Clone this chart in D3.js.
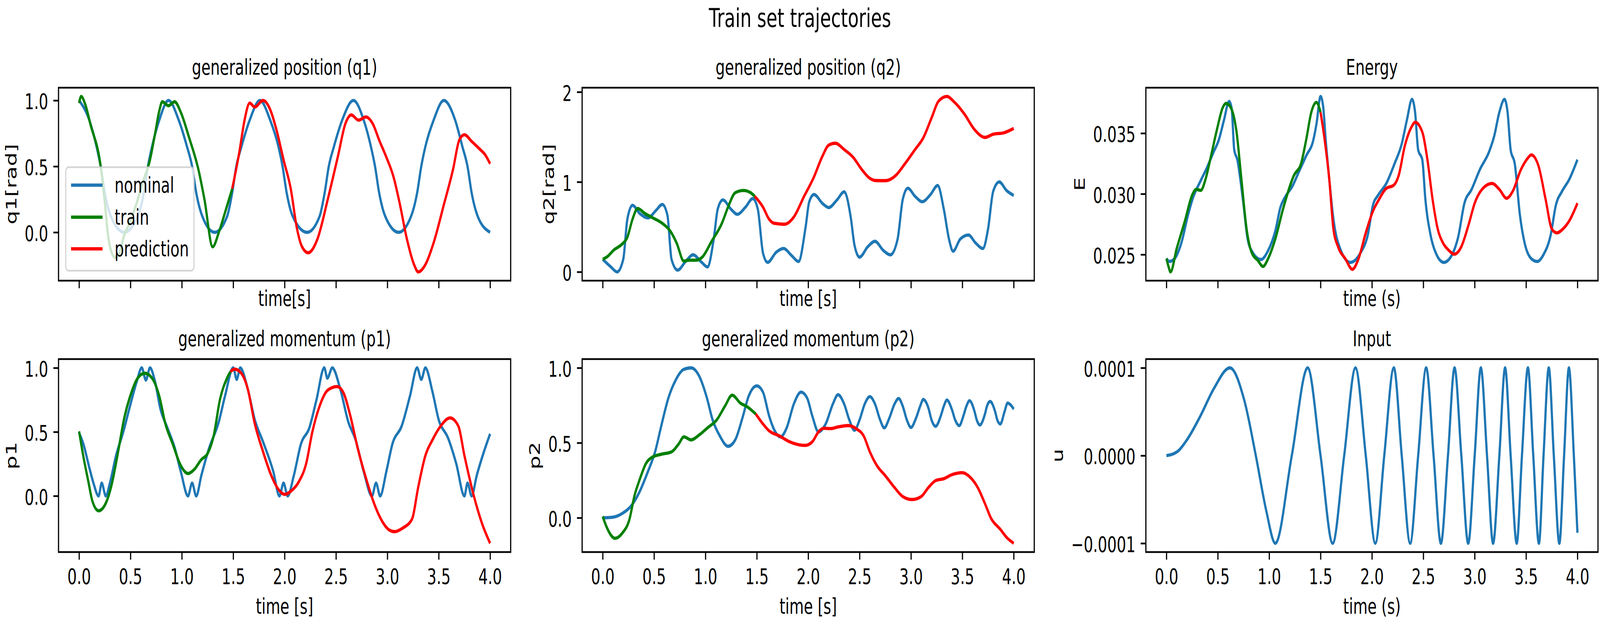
<!DOCTYPE html>
<html>
<head>
<meta charset="utf-8">
<script src="https://cdn.jsdelivr.net/npm/d3@7"></script>
<style>
    html, body { margin: 0; padding: 0; width: 100%; height: 100%; overflow: hidden; background: #ffffff; }
    #chart { display: block; width: 100vw; height: 100vh; }
    svg text { font-family: "DejaVu Sans", sans-serif; fill: #000000; }
</style>
</head>
<body>
<svg id="chart" viewBox="0 0 6000 1600" preserveAspectRatio="none"></svg>
<script>
// ---- data: [time (s), value] ----

const timeTicks = [0, 0.5, 1, 1.5, 2, 2.5, 3, 3.5, 4];

const q1Nominal = [
    [0.00,1.00],[0.10,0.85],[0.17,0.65],[0.21,0.50],[0.25,0.30],[0.31,0.12],[0.44,0.00],
    [0.57,0.12],[0.63,0.30],[0.67,0.50],[0.71,0.65],[0.78,0.85],[0.87,1.00],
    [0.97,0.85],[1.05,0.65],[1.10,0.50],[1.14,0.30],[1.20,0.12],[1.32,0.00],
    [1.44,0.12],[1.49,0.30],[1.53,0.50],[1.58,0.65],[1.66,0.85],[1.76,1.00],
    [1.86,0.85],[1.94,0.65],[1.98,0.50],[2.02,0.30],[2.08,0.12],[2.22,0.00],
    [2.34,0.12],[2.39,0.30],[2.43,0.50],[2.48,0.65],[2.56,0.85],[2.67,1.00],
    [2.77,0.85],[2.84,0.65],[2.88,0.50],[2.92,0.30],[2.98,0.12],[3.11,0.00],
    [3.23,0.12],[3.29,0.30],[3.33,0.50],[3.37,0.65],[3.45,0.85],[3.55,1.00],
    [3.66,0.85],[3.73,0.65],[3.78,0.50],[3.82,0.30],[3.88,0.12],[4.00,0.00]
];
const q1Train = [
    [0.00,0.98],[0.02,1.03],[0.06,0.97],[0.11,0.82],[0.21,0.50],[0.25,0.23],[0.28,-0.01],
    [0.32,-0.16],[0.35,-0.19],[0.39,-0.16],[0.44,-0.02],[0.48,0.05],[0.56,0.22],[0.62,0.38],
    [0.69,0.55],[0.74,0.75],[0.78,0.92],[0.81,0.99],[0.87,0.96],[0.93,0.99],[0.99,0.91],
    [1.07,0.72],[1.16,0.48],[1.22,0.25],[1.30,-0.11],[1.36,0.00],[1.42,0.15],[1.49,0.33]
];
const q1Pred = [
    [1.49,0.33],[1.56,0.61],[1.61,0.85],[1.66,0.98],[1.71,0.95],[1.79,1.00],[1.86,0.93],
    [1.92,0.78],[1.99,0.55],[2.06,0.33],[2.12,0.03],[2.17,-0.11],[2.23,-0.155],[2.32,-0.05],
    [2.42,0.25],[2.52,0.58],[2.59,0.82],[2.65,0.89],[2.72,0.85],[2.79,0.875],[2.86,0.82],
    [2.92,0.70],[2.99,0.57],[3.06,0.42],[3.12,0.22],[3.19,-0.05],[3.26,-0.245],[3.30,-0.30],
    [3.37,-0.245],[3.45,-0.08],[3.55,0.21],[3.64,0.48],[3.70,0.70],[3.75,0.74],[3.82,0.69],
    [3.90,0.63],[3.95,0.59],[4.00,0.52]
];

const q2Nominal = [
    [0.00,0.14],[0.08,0.055],[0.14,0.00],[0.20,0.14],[0.24,0.585],[0.29,0.74],[0.36,0.65],
    [0.44,0.60],[0.52,0.685],[0.58,0.75],[0.63,0.63],[0.67,0.14],[0.73,0.02],[0.81,0.12],
    [0.88,0.19],[0.96,0.11],[1.02,0.055],[1.08,0.36],[1.12,0.70],[1.17,0.80],[1.25,0.695],
    [1.31,0.64],[1.39,0.72],[1.46,0.815],[1.51,0.695],[1.56,0.21],[1.605,0.106],[1.69,0.22],
    [1.76,0.26],[1.84,0.18],[1.906,0.116],[1.975,0.50],[2.01,0.78],[2.057,0.86],[2.14,0.76],
    [2.20,0.715],[2.28,0.80],[2.35,0.89],[2.415,0.60],[2.45,0.30],[2.50,0.164],[2.58,0.28],
    [2.65,0.34],[2.73,0.24],[2.80,0.19],[2.87,0.365],[2.92,0.805],[2.97,0.93],[3.04,0.84],
    [3.11,0.78],[3.19,0.86],[3.26,0.96],[3.32,0.695],[3.37,0.365],[3.41,0.23],[3.48,0.365],
    [3.56,0.41],[3.63,0.32],[3.70,0.26],[3.75,0.475],[3.80,0.895],[3.86,1.00],[3.93,0.905],
    [4.00,0.85]
];
const q2Train = [
    [0.00,0.14],[0.04,0.165],[0.11,0.245],[0.19,0.31],[0.24,0.385],[0.29,0.585],[0.34,0.705],
    [0.41,0.65],[0.48,0.605],[0.58,0.54],[0.66,0.45],[0.72,0.32],[0.79,0.12],[0.84,0.13],
    [0.91,0.13],[0.97,0.165],[1.06,0.34],[1.16,0.54],[1.22,0.72],[1.29,0.88],[1.37,0.905],
    [1.44,0.88],[1.48,0.84]
];
const q2Pred = [
    [1.48,0.84],[1.56,0.72],[1.62,0.585],[1.67,0.54],[1.77,0.53],[1.86,0.61],[1.96,0.84],
    [2.05,1.04],[2.14,1.29],[2.20,1.41],[2.265,1.43],[2.35,1.36],[2.44,1.27],[2.52,1.14],
    [2.60,1.04],[2.66,1.015],[2.75,1.014],[2.85,1.07],[2.94,1.20],[3.04,1.36],[3.12,1.49],
    [3.20,1.71],[3.27,1.90],[3.35,1.95],[3.42,1.89],[3.52,1.755],[3.62,1.58],[3.72,1.495],
    [3.80,1.53],[3.90,1.545],[4.00,1.595]
];

const eNominal = [
    [0.00,0.02467],[0.03,0.02443],[0.08,0.02467],[0.146,0.02598],[0.21,0.02826],[0.26,0.02972],
    [0.33,0.03103],[0.395,0.03217],[0.46,0.03347],[0.51,0.03445],[0.56,0.03608],[0.61,0.03762],
    [0.635,0.03705],[0.66,0.03363],[0.69,0.03282],[0.744,0.02956],[0.79,0.02630],[0.84,0.02516],
    [0.92,0.02459],[0.99,0.02533],[1.06,0.02695],[1.11,0.02891],[1.16,0.02980],[1.23,0.03070],
    [1.29,0.03184],[1.36,0.03314],[1.43,0.03445],[1.46,0.03575],[1.50,0.03803],[1.525,0.03722],
    [1.55,0.03445],[1.585,0.03119],[1.625,0.02793],[1.69,0.02549],[1.79,0.02435],[1.89,0.02516],
    [1.96,0.02663],[2.01,0.02907],[2.06,0.02989],[2.14,0.03086],[2.22,0.03249],[2.29,0.03412],
    [2.34,0.03608],[2.39,0.03779],[2.42,0.03673],[2.45,0.03363],[2.49,0.03282],[2.52,0.02956],
    [2.57,0.02663],[2.62,0.02516],[2.70,0.02435],[2.77,0.02484],[2.84,0.02647],[2.90,0.02923],
    [2.97,0.03037],[3.05,0.03200],[3.14,0.03347],[3.19,0.03477],[3.24,0.03673],[3.29,0.03779],
    [3.32,0.03673],[3.35,0.03363],[3.39,0.03249],[3.44,0.02826],[3.49,0.02581],[3.55,0.02467],
    [3.61,0.02443],[3.67,0.02500],[3.74,0.02663],[3.79,0.02907],[3.85,0.03021],[3.92,0.03119],
    [4.00,0.03282]
];
const eTrain = [
    [0.00,0.02467],[0.02,0.02402],[0.04,0.02357],[0.10,0.02549],[0.18,0.02777],[0.25,0.02989],
    [0.29,0.03037],[0.335,0.03029],[0.38,0.03119],[0.43,0.03298],[0.495,0.03542],[0.545,0.03705],
    [0.58,0.03746],[0.63,0.03705],[0.68,0.03526],[0.73,0.03119],[0.78,0.02712],[0.83,0.02516],
    [0.89,0.02451],[0.94,0.02402],[0.99,0.02467],[1.06,0.02630],[1.14,0.02891],[1.24,0.03151],
    [1.31,0.03249],[1.36,0.03445],[1.41,0.03673],[1.46,0.03754],[1.50,0.03673]
];
const ePred = [
    [1.50,0.03673],[1.54,0.03445],[1.585,0.03119],[1.625,0.02712],[1.67,0.02565],[1.74,0.02467],
    [1.81,0.02378],[1.87,0.02467],[1.94,0.02679],[2.01,0.02858],[2.07,0.02956],[2.14,0.03046],
    [2.21,0.03070],[2.26,0.03151],[2.32,0.03396],[2.39,0.03559],[2.42,0.03591],[2.49,0.03510],
    [2.54,0.03282],[2.59,0.02956],[2.64,0.02712],[2.69,0.02598],[2.75,0.02533],[2.80,0.02503],
    [2.87,0.02565],[2.94,0.02744],[3.00,0.02923],[3.09,0.03054],[3.17,0.03086],[3.24,0.03037],
    [3.31,0.02964],[3.37,0.03021],[3.45,0.03200],[3.52,0.03298],[3.55,0.03322],[3.62,0.03233],
    [3.69,0.02956],[3.75,0.02712],[3.80,0.02679],[3.86,0.02712],[3.92,0.02777],[4.00,0.02923]
];

const p1Nominal = [
    [0.00,0.493],[0.04,0.41],[0.10,0.22],[0.14,0.10],[0.19,0.00],[0.22,0.10],[0.26,0.00],
    [0.30,0.10],[0.36,0.315],[0.43,0.50],[0.49,0.685],[0.56,0.89],[0.61,1.00],[0.65,0.905],
    [0.69,1.00],[0.74,0.89],[0.79,0.685],[0.86,0.53],[0.93,0.377],[0.99,0.19],[1.06,0.00],
    [1.10,0.10],[1.14,0.00],[1.19,0.16],[1.26,0.36],[1.36,0.58],[1.42,0.78],[1.50,1.00],
    [1.534,0.91],[1.568,1.00],[1.64,0.84],[1.71,0.594],[1.79,0.423],[1.89,0.19],[1.95,0.00],
    [1.99,0.10],[2.03,0.00],[2.09,0.16],[2.16,0.408],[2.24,0.53],[2.31,0.75],[2.386,1.00],
    [2.416,0.92],[2.464,1.00],[2.54,0.84],[2.62,0.578],[2.69,0.44],[2.77,0.19],[2.85,0.00],
    [2.89,0.10],[2.93,0.00],[2.99,0.19],[3.05,0.408],[3.14,0.547],[3.22,0.78],[3.29,1.00],
    [3.33,0.91],[3.37,1.00],[3.44,0.81],[3.50,0.594],[3.59,0.454],[3.67,0.253],[3.75,0.00],
    [3.78,0.10],[3.82,0.00],[3.87,0.16],[3.94,0.346],[4.00,0.485]
];
const p1Train = [
    [0.00,0.504],[0.04,0.315],[0.09,0.113],[0.13,-0.042],[0.19,-0.116],[0.26,-0.057],[0.32,0.098],
    [0.38,0.346],[0.44,0.61],[0.51,0.81],[0.57,0.92],[0.64,0.958],[0.71,0.92],[0.78,0.78],
    [0.84,0.563],[0.91,0.408],[0.99,0.237],[1.06,0.175],[1.12,0.206],[1.19,0.284],[1.25,0.33],
    [1.31,0.47],[1.37,0.749],[1.44,0.92],[1.473,0.97]
];
const p1Pred = [
    [1.473,0.97],[1.512,0.99],[1.57,0.966],[1.64,0.84],[1.71,0.563],[1.79,0.346],[1.87,0.16],
    [1.94,0.051],[2.00,0.012],[2.06,0.036],[2.14,0.113],[2.21,0.253],[2.27,0.50],[2.34,0.70],
    [2.42,0.826],[2.51,0.854],[2.57,0.81],[2.64,0.625],[2.71,0.377],[2.79,0.144],[2.87,-0.057],
    [2.96,-0.212],[3.02,-0.267],[3.07,-0.279],[3.15,-0.251],[3.24,-0.181],[3.30,0.067],
    [3.37,0.315],[3.44,0.439],[3.52,0.547],[3.61,0.609],[3.69,0.547],[3.75,0.315],[3.84,0.005],
    [3.92,-0.212],[4.00,-0.37]
];

const p2Nominal = [
    [0.00,0.00],[0.09,0.003],[0.19,0.029],[0.28,0.082],[0.36,0.175],[0.44,0.308],[0.51,0.44],
    [0.57,0.613],[0.64,0.80],[0.71,0.918],[0.79,0.99],[0.86,1.00],[0.94,0.944],[1.01,0.81],
    [1.07,0.653],[1.14,0.546],[1.22,0.477],[1.29,0.52],[1.36,0.666],[1.42,0.81],[1.50,0.88],
    [1.56,0.838],[1.62,0.679],[1.67,0.586],[1.73,0.54],[1.79,0.599],[1.86,0.759],[1.93,0.838],
    [1.99,0.798],[2.04,0.679],[2.10,0.573],[2.17,0.626],[2.24,0.759],[2.29,0.821],[2.35,0.759],
    [2.40,0.653],[2.45,0.584],[2.50,0.653],[2.55,0.759],[2.60,0.808],[2.65,0.759],[2.70,0.653],
    [2.74,0.60],[2.79,0.666],[2.84,0.759],[2.88,0.796],[2.92,0.745],[2.96,0.653],[3.00,0.603],
    [3.05,0.666],[3.09,0.745],[3.12,0.789],[3.17,0.732],[3.20,0.653],[3.24,0.61],[3.29,0.679],
    [3.32,0.745],[3.35,0.785],[3.40,0.719],[3.43,0.653],[3.47,0.615],[3.51,0.679],[3.54,0.745],
    [3.57,0.781],[3.62,0.706],[3.64,0.653],[3.67,0.619],[3.72,0.692],[3.74,0.745],[3.77,0.776],
    [3.82,0.706],[3.84,0.653],[3.87,0.626],[3.91,0.706],[3.94,0.765],[3.98,0.745],[4.00,0.725]
];
const p2Train = [
    [0.00,0.009],[0.04,-0.064],[0.12,-0.137],[0.19,-0.103],[0.26,-0.011],[0.31,0.149],[0.36,0.255],
    [0.42,0.361],[0.49,0.407],[0.57,0.424],[0.67,0.44],[0.74,0.493],[0.79,0.54],[0.86,0.52],
    [0.94,0.553],[1.02,0.60],[1.11,0.653],[1.19,0.745],[1.26,0.818],[1.34,0.765],[1.41,0.739],
    [1.49,0.692]
];
const p2Pred = [
    [1.49,0.692],[1.56,0.626],[1.62,0.58],[1.72,0.546],[1.82,0.507],[1.91,0.487],[1.97,0.483],
    [2.04,0.507],[2.10,0.573],[2.15,0.597],[2.22,0.595],[2.29,0.606],[2.39,0.615],[2.47,0.593],
    [2.54,0.546],[2.60,0.44],[2.67,0.347],[2.75,0.281],[2.84,0.202],[2.92,0.142],[3.01,0.122],
    [3.10,0.142],[3.17,0.202],[3.24,0.248],[3.32,0.261],[3.40,0.288],[3.50,0.301],[3.58,0.268],
    [3.65,0.202],[3.72,0.095],[3.78,-0.004],[3.87,-0.077],[3.93,-0.13],[4.00,-0.17]
];

const uNominal = [
    [0.00,0.0],[0.10,0.04e-4],[0.20,0.18e-4],[0.33,0.45e-4],[0.46,0.76e-4],[0.618,1.0e-4],
    [0.76,0.62e-4],[0.87,0.0],[0.97,-0.62e-4],[1.06,-1.0e-4],[1.22,0.0],[1.375,1.0e-4],
    [1.50,0.0],[1.618,-1.0e-4],[1.73,0.0],[1.84,1.0e-4],[1.94,0.0],[2.033,-1.0e-4],[2.12,0.0],
    [2.213,1.0e-4],[2.29,0.0],[2.372,-1.0e-4],[2.45,0.0],[2.528,1.0e-4],[2.60,0.0],
    [2.671,-1.0e-4],[2.74,0.0],[2.804,1.0e-4],[2.87,0.0],[2.937,-1.0e-4],[3.00,0.0],
    [3.06,1.0e-4],[3.12,0.0],[3.179,-1.0e-4],[3.24,0.0],[3.296,1.0e-4],[3.35,0.0],
    [3.409,-1.0e-4],[3.46,0.0],[3.518,1.0e-4],[3.57,0.0],[3.625,-1.0e-4],[3.67,0.0],
    [3.721,1.0e-4],[3.77,0.0],[3.824,-1.0e-4],[3.87,0.0],[3.917,1.0e-4],[3.965,0.0],
    [4.00,-0.88e-4]
];

const q1Ticks = [0, 0.5, 1];
const q2Ticks = [0, 1, 2];
const eTicks = [0.025, 0.030, 0.035];
const pTicks = [0, 0.5, 1];
const uTicks = [-1e-4, 0, 1e-4];

const seriesNames = ['nominal', 'train', 'prediction'];
const seriesColors = ['#1f77b4', '#008000', '#ff0000'];

// ---- layout (in viewBox units, 400 dpi figure) ----
const FS = 55.6;            // 10pt
const LW = 8.33;            // 1.5pt
const AXW = 4.44;           // 0.8pt
const TICK = 19.4;
const colLeft = [219.5, 2183, 4297];
const rowTop = [224.5, 919.3];
const plotW = 1695.5;
const plotH = 494;

const panels = [
    { col: 0, row: 0, title: 'generalized position (q1)', ylabel: 'q1[rad]', xlabel: 'time[s]',
      data: [q1Nominal, q1Train, q1Pred], yTicks: q1Ticks, yFmt: '.1f', legend: true },
    { col: 1, row: 0, title: 'generalized position (q2)', ylabel: 'q2[rad]', xlabel: 'time [s]',
      data: [q2Nominal, q2Train, q2Pred], yTicks: q2Ticks, yFmt: 'd' },
    { col: 2, row: 0, title: 'Energy', ylabel: 'E', xlabel: 'time (s)',
      data: [eNominal, eTrain, ePred], yTicks: eTicks, yFmt: '.3f' },
    { col: 0, row: 1, title: 'generalized momentum (p1)', ylabel: 'p1', xlabel: 'time [s]',
      data: [p1Nominal, p1Train, p1Pred], yTicks: pTicks, yFmt: '.1f' },
    { col: 1, row: 1, title: 'generalized momentum (p2)', ylabel: 'p2', xlabel: 'time [s]',
      data: [p2Nominal, p2Train, p2Pred], yTicks: pTicks, yFmt: '.1f' },
    { col: 2, row: 1, title: 'Input', ylabel: 'u', xlabel: 'time (s)',
      data: [uNominal], yTicks: uTicks, yFmt: '.4f' }
];

const svg = d3.select('#chart');

svg.append('text')
    .attr('x', 3000)
    .attr('y', 69)
    .attr('text-anchor', 'middle')
    .style('font-size', 66.7 + 'px')
    .text('Train set trajectories');

panels.forEach(function(p, i) {
    let left = colLeft[p.col];
    let top = rowTop[p.row];

    let x = d3.scaleLinear().domain([-0.2, 4.2]).range([0, plotW]);
    let vals = p.data.flatMap(s => s.map(d => d[1]));
    let lo = d3.min(vals), hi = d3.max(vals);
    let pad = (hi - lo) * 0.05;
    let y = d3.scaleLinear().domain([lo - pad, hi + pad]).range([plotH, 0]);

    let g = svg.append('g').attr('transform', `translate(${left},${top})`);

    g.append('clipPath')
        .attr('id', 'clip' + i)
        .append('rect')
            .attr('width', plotW)
            .attr('height', plotH);

    let line = d3.line()
        .x(d => x(d[0]))
        .y(d => y(d[1]))
        .curve(d3.curveMonotoneX);

    g.append('g')
        .attr('clip-path', `url(#clip${i})`)
        .selectAll('path')
        .data(p.data)
        .join('path')
            .attr('d', line)
            .attr('fill', 'none')
            .attr('stroke', (d, k) => seriesColors[k])
            .attr('stroke-width', LW)
            .attr('stroke-linejoin', 'round');

    // axes
    let xAxis = d3.axisBottom(x)
        .tickValues(timeTicks)
        .tickSize(TICK)
        .tickSizeOuter(0)
        .tickPadding(TICK)
        .tickFormat(p.row == 1 ? d3.format('.1f') : '');
    let gx = g.append('g')
        .attr('transform', `translate(0,${plotH})`)
        .call(xAxis);

    let yAxis = d3.axisLeft(y)
        .tickValues(p.yTicks)
        .tickSize(TICK)
        .tickSizeOuter(0)
        .tickPadding(TICK)
        .tickFormat(d3.format(p.yFmt));
    let gy = g.append('g').call(yAxis);

    [gx, gy].forEach(function(a) {
        a.attr('font-family', null).attr('font-size', null);
        a.select('.domain').remove();
        a.selectAll('.tick line').attr('stroke', '#000').attr('stroke-width', AXW);
        a.selectAll('.tick text')
            .attr('fill', '#000')
            .style('font-size', FS + 'px');
    });
    gx.selectAll('.tick text').attr('dy', '0.78em');
    gy.selectAll('.tick text').attr('dy', '0.39em');

    g.append('rect')
        .attr('width', plotW)
        .attr('height', plotH)
        .attr('fill', 'none')
        .attr('stroke', '#000')
        .attr('stroke-width', AXW);

    // labels
    g.append('text')
        .attr('x', plotW / 2)
        .attr('y', -33.5)
        .attr('text-anchor', 'middle')
        .style('font-size', FS + 'px')
        .text(p.title);

    g.append('text')
        .attr('x', plotW / 2)
        .attr('y', p.row == 1 ? plotH + 158 : plotH + 65)
        .attr('text-anchor', 'middle')
        .style('font-size', FS + 'px')
        .text(p.xlabel);

    let tw = 0;
    gy.selectAll('.tick text').each(function() {
        tw = Math.max(tw, this.getBBox().width);
    });
    let lx = -(2 * TICK) - tw - 31;
    g.append('text')
        .attr('transform', `translate(${lx},${plotH / 2}) rotate(-90)`)
        .attr('text-anchor', 'middle')
        .style('font-size', FS + 'px')
        .text(p.ylabel);

    if (p.legend) {
        let lg = g.append('g').attr('transform', `translate(27,${plotH - 290.5})`);
        lg.append('rect')
            .attr('width', 481)
            .attr('height', 265)
            .attr('rx', 11)
            .attr('fill', '#ffffff')
            .attr('fill-opacity', 0.8)
            .attr('stroke', '#cccccc')
            .attr('stroke-opacity', 0.8)
            .attr('stroke-width', AXW);
        let rows = [46, 128, 209];
        seriesNames.forEach(function(name, k) {
            lg.append('line')
                .attr('x1', 20).attr('x2', 138)
                .attr('y1', rows[k]).attr('y2', rows[k])
                .attr('stroke', seriesColors[k])
                .attr('stroke-width', LW);
            lg.append('text')
                .attr('x', 183)
                .attr('y', rows[k] + 19)
                .style('font-size', FS + 'px')
                .text(name);
        });
    }
});
</script>
</body>
</html>
